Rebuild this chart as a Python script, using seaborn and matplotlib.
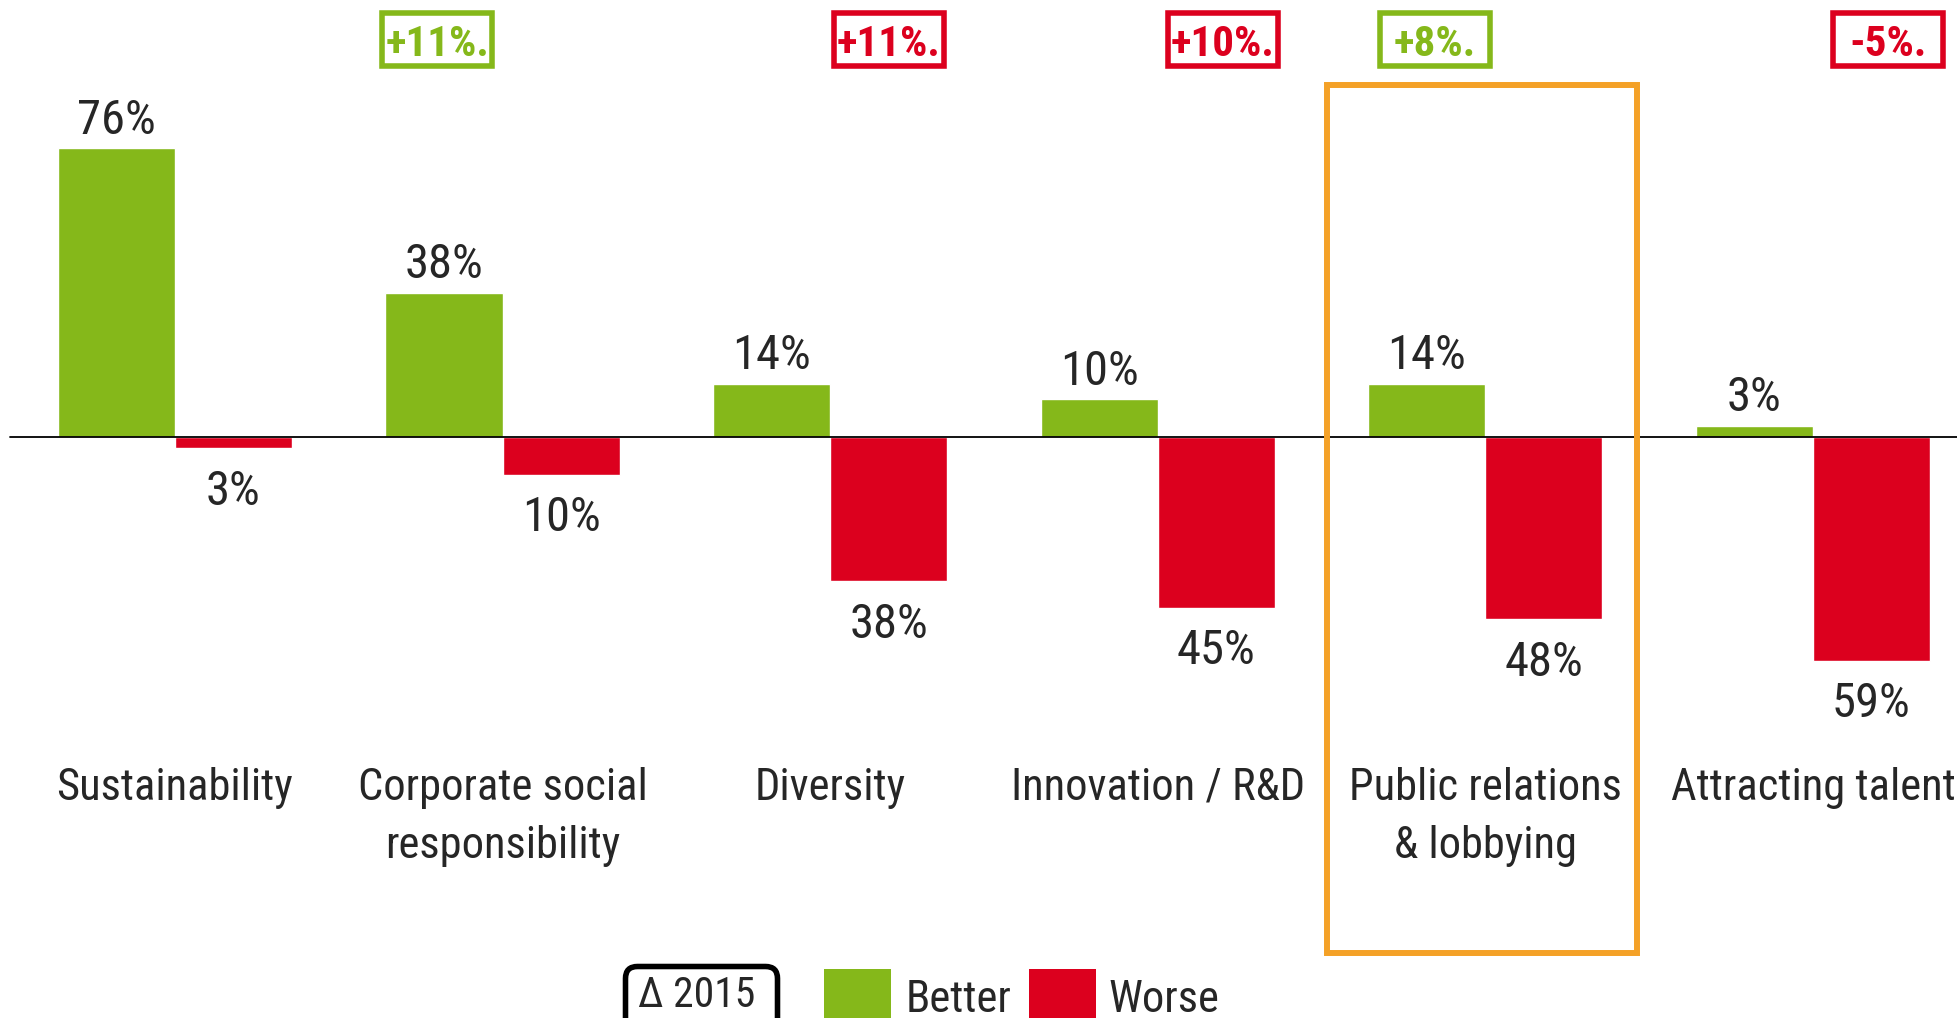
import matplotlib
matplotlib.use("Agg")
import matplotlib.pyplot as plt
from matplotlib.patches import Rectangle, FancyBboxPatch
import pandas as pd
import seaborn as sns

# data
categories = ["Sustainability", "Corporate social\nresponsibility", "Diversity",
              "Innovation / R&D", "Public relations\n& lobbying", "Attracting talent"]
better = [76, 38, 14, 10, 14, 3]
worse = [3, 10, 38, 45, 48, 59]
delta_text = [None, "+11%.", "+11%.", "+10%.", "+8%.", "-5%."]
delta_series = [None, "Better", "Worse", "Worse", "Better", "Worse"]
highlight_idx = 4

GREEN = "#85b81a"
RED = "#dc001e"
ORANGE = "#f4a127"

sns.set_theme(style="white")
plt.rcParams["font.family"] = ["Roboto Condensed", "DejaVu Sans"]

df = pd.DataFrame({
    "category": categories * 2,
    "series": ["Better"] * len(categories) + ["Worse"] * len(categories),
    "value": better + [-v for v in worse],
})

fig = plt.figure(figsize=(19.58, 10.18), dpi=100)
ax = fig.add_axes([0, 0, 1, 1])
sns.barplot(data=df, x="category", y="value", hue="series", order=categories,
            hue_order=["Better", "Worse"], palette=[GREEN, RED], width=0.715,
            saturation=1, legend=False, ax=ax)
ax.set_xlim(-0.534, 5.443)
ax.set_ylim(-152.9, 115.0)
ax.axis("off")
ax.axhline(0, xmin=10 / 1958, color="black", lw=1.3, zorder=3)

off = 0.715 / 4
for i, cat in enumerate(categories):
    ax.text(i - off, better[i] + 3.8, f"{better[i]}%", ha="center", va="baseline", fontsize=35)
    ax.text(i + off, -worse[i] - 14.8, f"{worse[i]}%", ha="center", va="baseline", fontsize=35)
    for k, line in enumerate(cat.split("\n")):
        ax.text(i, -95.5 - 15.2 * k, line, ha="center", va="baseline", fontsize=32)

# change vs 2015 boxes
nudge = [0, -0.02, 0, 0.02, 0.025, 0.05]
bw, bh = 0.336, 13.7
for i, txt in enumerate(delta_text):
    if txt is None:
        continue
    col = GREEN if delta_series[i] == "Better" else RED
    cx = i + (-off if delta_series[i] == "Better" else off) + nudge[i]
    ax.add_patch(Rectangle((cx - bw / 2, 104.6 - bh / 2), bw, bh, fc="white",
                           ec=col, lw=4, clip_on=False, zorder=4))
    ax.text(cx, 104.6, txt, ha="center", va="center_baseline", fontsize=31,
            fontweight="bold", color=col, zorder=5)

# highlight frame
ax.add_patch(Rectangle((highlight_idx - 0.483, -135.8), 0.946, 228.4, fill=False,
                       ec=ORANGE, lw=4.3, clip_on=False, zorder=4))

# legend, in inches from the bottom left
tr = fig.dpi_scale_trans
fig.add_artist(FancyBboxPatch((6.255, -0.22), 1.52, 0.735, boxstyle="round,pad=0,rounding_size=0.12",
                              fc="white", ec="black", lw=4, transform=tr))
fig.text(6.97, 0.11, "\u0394 2015", ha="center", va="baseline", fontsize=30, transform=tr)
fig.add_artist(Rectangle((8.24, -0.17), 0.67, 0.66, fc=GREEN, ec="none", transform=tr))
fig.text(9.06, 0.06, "Better", ha="left", va="baseline", fontsize=32, transform=tr)
fig.add_artist(Rectangle((10.29, -0.17), 0.67, 0.66, fc=RED, ec="none", transform=tr))
fig.text(11.08, 0.06, "Worse", ha="left", va="baseline", fontsize=32, transform=tr)

fig.savefig("out.png", dpi=100)
